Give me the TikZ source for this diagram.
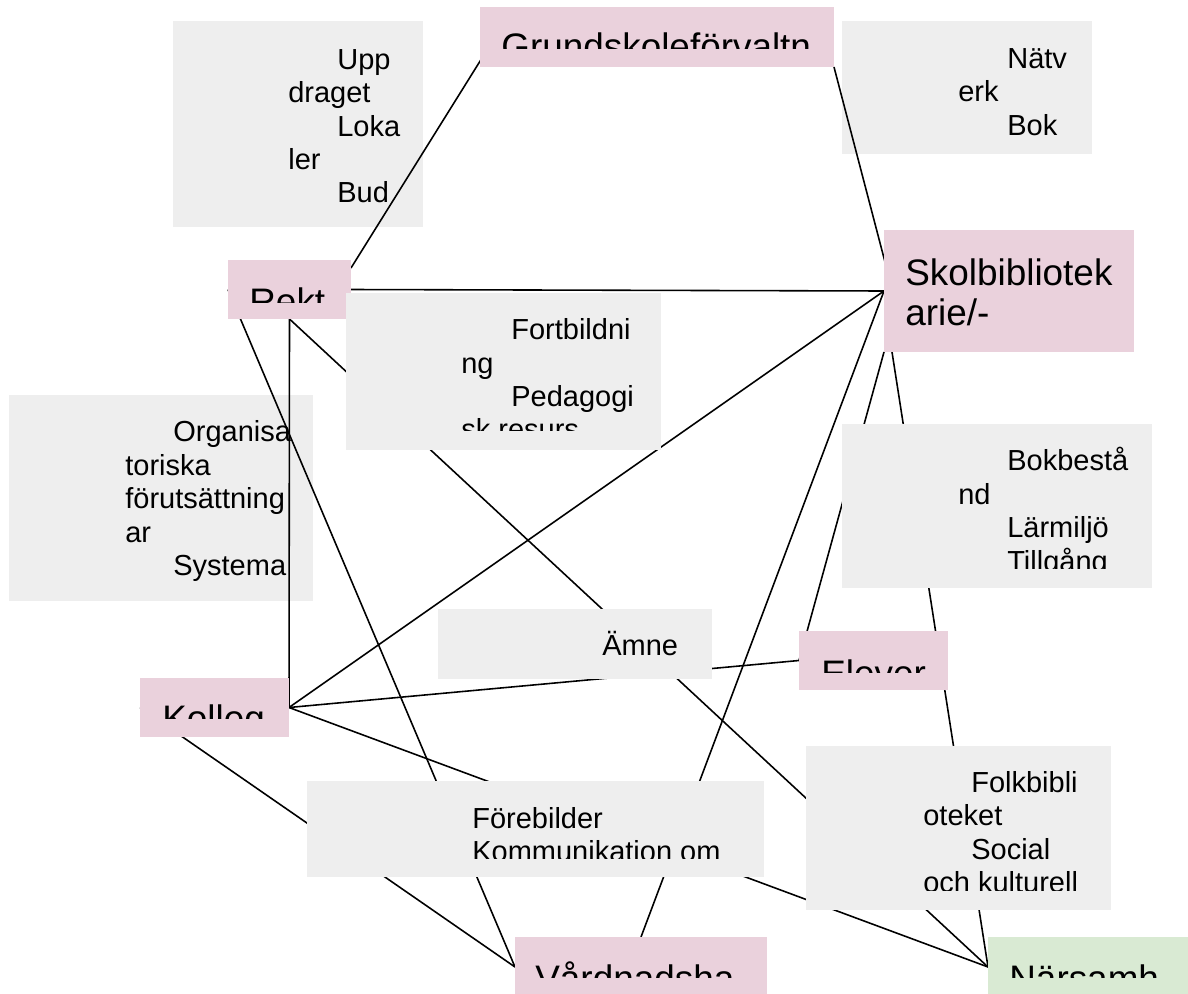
\documentclass[tikz,border=0pt]{standalone}
\usepackage{fontspec}
\setmainfont{Liberation Sans}
\usetikzlibrary{fit,calc,backgrounds}

\definecolor{actorpink}{HTML}{EAD1DC}
\definecolor{actorgreen}{HTML}{D9EAD3}
\definecolor{notegrey}{HTML}{EEEEEE}

\tikzset{
  actor/.style={fill=actorpink, inner sep=0pt, outer sep=0pt},
  note/.style={fill=notegrey, inner sep=0pt, outer sep=0pt},
  link/.style={black, line width=0.9pt},
  notetxt/.style={anchor=base west, inner sep=0pt, font=\fontsize{16.5}{19}\selectfont},
  actortxt/.style={anchor=base west, inner sep=0pt, font=\fontsize{21}{24}\selectfont},
}

\begin{document}
\begin{tikzpicture}[x=0.02cm, y=-0.02cm]
\useasboundingbox (0,0) rectangle (1188,994);

% actors
\node[actor, fit={(480,7)(834,67)}] (grund) {};
\node[actor, fit={(884,230)(1134,352)}] (skol) {};
\node[actor, fit={(228,260)(351,319)}] (rekt) {};
\node[actor, fit={(799,631)(948,690)}] (elever) {};
\node[actor, fit={(140,678)(289,737)}] (kolleg) {};
\node[actor, fit={(515,937)(767,997)}] (vard) {};
\node[actor, fill=actorgreen, fit={(988,937)(1188,997)}] (narsamh) {};

\begin{pgfonlayer}{background}
\fill[white] (0,0) rectangle (1188,994);
% notes that lie under the connectors
\node[note, fit={(173,21)(423,227)}] (upp) {};
\node[note, fit={(842,21)(1092,154)}] (natv) {};
\node[note, fit={(9,395)(313,601)}] (org) {};
\foreach \w/\xx/\yy [count=\i] in {Upp/337/69, draget/288/102, Loka/337/136, ler/288/169, Bud/337/202}
  \node[notetxt] (upp\i) at (\xx,\yy) {\w};
\foreach \w/\xx/\yy [count=\i] in {Nätv/1007/68, erk/958/101, Bok/1007/135}
  \node[notetxt] (natv\i) at (\xx,\yy) {\w};
\foreach \w/\xx/\yy [count=\i] in {Organisa/173/441, toriska/125/475, förutsättning/125/508, ar/125/542, Systema/173/575}
  \node[notetxt] (org\i) at (\xx,\yy) {\w};
% connectors
\draw[link] ($(rekt.north east)+(0,8)$) -- ($(grund.south west)+(2,-9)$);
\draw[link] (grund.south east) -- ($(skol.north west)+(1,32)$);
\draw[link] (rekt.east) -- (skol.west);
\draw[link] (rekt.south) -- (kolleg.east);
\draw[link] (rekt.south) -- (narsamh.west);
\draw[link] (rekt.west) -- (vard.west);
\draw[link] (kolleg.east) -- (skol.west);
\draw[link] (kolleg.east) -- (elever.west);
\draw[link] (kolleg.east) -- (narsamh.west);
\draw[link] (kolleg.west) -- (vard.west);
\draw[link] (elever.west) -- (skol.south west);
\draw[link] (vard.north) -- (skol.west);
\draw[link] ($(skol.south west)+(8,0)$) -- (narsamh.west);
\end{pgfonlayer}

% notes over the connectors
\node[note, fit={(346,293)(661,450)}] (fort) {};
\node[note, fit={(842,424)(1152,588)}] (bok) {};
\node[note, fit={(438,609)(712,679)}] (amne) {};
\node[note, fit={(307,781)(764,877)}] (fore) {};
\node[note, fit={(806,746)(1111,910)}] (folk) {};

% note texts
\node[notetxt] (amne1) at (602,655) {Ämne};
\begin{scope}
  \clip (fort.north west) rectangle (661,430);
  \foreach \w/\xx/\yy [count=\i] in {Fortbildni/511/339, ng/461/373, Pedagogi/511/406, sk resurs/461/439}
    \node[notetxt] (fort\i) at (\xx,\yy) {\w};
\end{scope}
\begin{scope}
  \clip (bok.north west) rectangle (1152,568);
  \foreach \w/\xx/\yy [count=\i] in {Bokbestå/1007/470, nd/958/504, Lärmiljö/1007/537, Tillgång/1007/571}
    \node[notetxt] (bok\i) at (\xx,\yy) {\w};
\end{scope}
\begin{scope}
  \clip (fore.north west) rectangle (764,858);
  \foreach \w/\xx/\yy [count=\i] in {Förebilder/472/828, Kommunikation om/472/861}
    \node[notetxt] (fore\i) at (\xx,\yy) {\w};
\end{scope}
\begin{scope}
  \clip (folk.north west) rectangle (1111,890);
  \foreach \w/\xx/\yy [count=\i] in {Folkbibli/971/792, oteket/923/825, Social/971/859, och kulturell/923/892}
    \node[notetxt] (folk\i) at (\xx,\yy) {\w};
\end{scope}

% actor texts
\node[actortxt] (skol1) at (905,285) {Skolbibliotek};
\node[actortxt] (skol2) at (905,325) {arie/-};
\begin{scope}
  \clip (grund.north west) rectangle (834,48);
  \node[actortxt] (grund1) at (501,59.5) {Grundskoleförvaltn};
\end{scope}
\begin{scope}
  \clip (rekt.north west) rectangle (351,302);
  \node[actortxt] (rekt1) at (249,314.5) {Rekt};
\end{scope}
\begin{scope}
  \clip (elever.north west) rectangle (948,672);
  \node[actortxt] (elever1) at (821,686.5) {Elever};
\end{scope}
\begin{scope}
  \clip (kolleg.north west) rectangle (289,718);
  \node[actortxt] (kolleg1) at (162,731.5) {Kolleg};
\end{scope}
\begin{scope}
  \clip (vard.north west) rectangle (767,977);
  \node[actortxt] (vard1) at (535,991.5) {Vårdnadsha};
\end{scope}
\begin{scope}
  \clip (narsamh.north west) rectangle (1188,977);
  \node[actortxt] (narsamh1) at (1009,991.5) {Närsamh};
\end{scope}
\end{tikzpicture}
\end{document}
